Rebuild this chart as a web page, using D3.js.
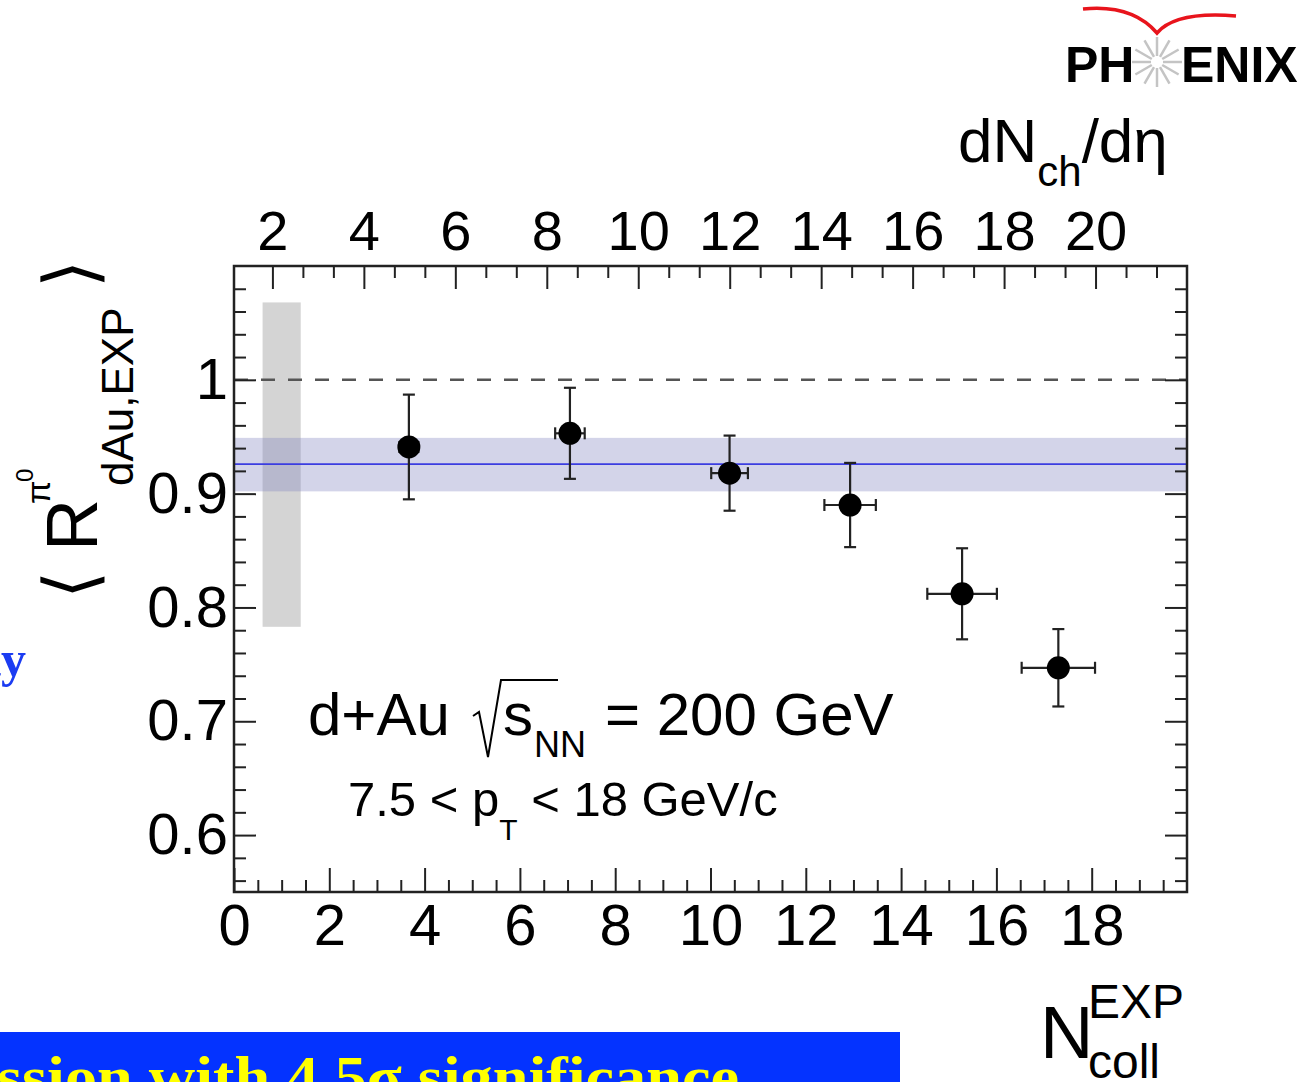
<!DOCTYPE html>
<html lang="en">
<head>
<meta charset="utf-8">
<title>RdAu vs Ncoll</title>
<script src="https://cdn.jsdelivr.net/npm/d3@7"></script>
<style>
  body { margin: 0; background: #fff; }
  svg text { font-family: "Liberation Sans", Arial, Helvetica, sans-serif; fill: #000; }
</style>
</head>
<body>
<script>
// values
var ncoll    = [3.67, 7.05, 10.40, 12.93, 15.28, 17.30];
var ncollErr = [0.20, 0.31, 0.385, 0.54, 0.73, 0.77];
var rdau     = [0.941, 0.953, 0.918, 0.890, 0.812, 0.747];
var rdauErr  = [0.046, 0.040, 0.033, 0.037, 0.040, 0.034];

var fitMean = 0.926;
var fitBand = [0.902, 0.949];
var globalBox = [0.6, 1.4, 0.783, 1.068];   // x0, x1, y0, y1

var xTicks   = [0, 2, 4, 6, 8, 10, 12, 14, 16, 18];
var topTicks = [2, 4, 6, 8, 10, 12, 14, 16, 18, 20];
var yTicks   = [0.6, 0.7, 0.8, 0.9, 1];

var W = 1302, H = 1082;
var fL = 234, fR = 1187, fT = 266, fB = 892;   // frame edges

var svg = d3.select("body").append("svg")
    .attr("width", W)
    .attr("height", H);

var x = d3.scaleLinear().domain([0, 20]).range([fL, fR]);
var xTop = d3.scaleLinear().domain([1.16, 22.0]).range([fL, fR]);
var y = d3.scaleLinear().domain([0.55, 1.1]).range([fB, fT]);

// minor tick values
var xMinor = d3.range(0, 20.01, 0.5).filter(function(v) { return v % 2 !== 0; });
var topMinor = d3.range(2, 22.0, 2 / 3).filter(function(v, i) { return i % 3 !== 0; });
var yMinor = d3.range(0.56, 1.1, 0.02).filter(function(v) {
    return Math.abs(v * 10 - Math.round(v * 10)) > 1e-6;
});

// ---- plot body ----
var plot = svg.append("g");

plot.append("rect")
    .attr("x", x(globalBox[0]))
    .attr("width", x(globalBox[1]) - x(globalBox[0]))
    .attr("y", y(globalBox[3]))
    .attr("height", y(globalBox[2]) - y(globalBox[3]))
    .attr("fill", "#d4d4d4");

plot.append("rect")
    .attr("x", fL)
    .attr("width", fR - fL)
    .attr("y", y(fitBand[1]))
    .attr("height", y(fitBand[0]) - y(fitBand[1]))
    .attr("fill", "rgb(133,136,194)")
    .attr("fill-opacity", 0.36);

plot.append("line")
    .attr("x1", fL).attr("x2", fR)
    .attr("y1", y(fitMean)).attr("y2", y(fitMean))
    .attr("stroke", "#3b3de0")
    .attr("stroke-width", 1.8);

plot.append("line")
    .attr("x1", fL).attr("x2", fR)
    .attr("y1", y(1)).attr("y2", y(1))
    .attr("stroke", "#555")
    .attr("stroke-width", 2.5)
    .attr("stroke-dasharray", "14,13");

// ---- points with error bars ----
var pts = ncoll.map(function(v, i) {
    return {x: v, ex: ncollErr[i], y: rdau[i], ey: rdauErr[i]};
});

var pt = plot.selectAll("g.pt")
    .data(pts)
  .enter().append("g")
    .attr("class", "pt")
    .attr("stroke", "#222")
    .attr("stroke-width", 2.2);

pt.append("line")
    .attr("x1", function(d) { return x(d.x); })
    .attr("x2", function(d) { return x(d.x); })
    .attr("y1", function(d) { return y(d.y + d.ey); })
    .attr("y2", function(d) { return y(d.y - d.ey); });
pt.append("line")
    .attr("x1", function(d) { return x(d.x - d.ex); })
    .attr("x2", function(d) { return x(d.x + d.ex); })
    .attr("y1", function(d) { return y(d.y); })
    .attr("y2", function(d) { return y(d.y); });
// caps
[-1, 1].forEach(function(s) {
    pt.append("line")
        .attr("x1", function(d) { return x(d.x) - 6; })
        .attr("x2", function(d) { return x(d.x) + 6; })
        .attr("y1", function(d) { return y(d.y + s * d.ey); })
        .attr("y2", function(d) { return y(d.y + s * d.ey); });
    pt.append("line")
        .attr("x1", function(d) { return x(d.x + s * d.ex); })
        .attr("x2", function(d) { return x(d.x + s * d.ex); })
        .attr("y1", function(d) { return y(d.y) - 6; })
        .attr("y2", function(d) { return y(d.y) + 6; });
});
pt.append("circle")
    .attr("cx", function(d) { return x(d.x); })
    .attr("cy", function(d) { return y(d.y); })
    .attr("r", 11.5)
    .attr("stroke", "none")
    .attr("fill", "#000");

// ---- axes (ROOT style, ticks inside) ----
function styleAxis(g, size) {
    g.select(".domain").remove();
    g.selectAll(".tick line").attr("stroke", "#222").attr("stroke-width", 2);
    g.attr("font-size", size).attr("font-family", null);
    g.selectAll("text").attr("fill", "#000");
}

var gx = svg.append("g")
    .attr("transform", "translate(0," + fB + ")")
    .call(d3.axisBottom(x).tickValues(xTicks).tickSize(-24).tickPadding(12).tickFormat(d3.format("d")));
styleAxis(gx, 58);
svg.append("g")
    .attr("transform", "translate(0," + fB + ")")
    .call(d3.axisBottom(x).tickValues(xMinor).tickSize(-12).tickFormat(""))
    .call(styleAxis, 10);

var gt = svg.append("g")
    .attr("transform", "translate(0," + fT + ")")
    .call(d3.axisTop(xTop).tickValues(topTicks).tickSize(-23).tickPadding(16).tickFormat(d3.format("d")));
styleAxis(gt, 56);
svg.append("g")
    .attr("transform", "translate(0," + fT + ")")
    .call(d3.axisTop(xTop).tickValues(topMinor).tickSize(-12).tickFormat(""))
    .call(styleAxis, 10);

var gy = svg.append("g")
    .attr("transform", "translate(" + fL + ",0)")
    .call(d3.axisLeft(y).tickValues(yTicks).tickSize(-22).tickPadding(6)
        .tickFormat(function(d) { return d === 1 ? "1" : d.toFixed(1); }));
styleAxis(gy, 58);
svg.append("g")
    .attr("transform", "translate(" + fL + ",0)")
    .call(d3.axisLeft(y).tickValues(yMinor).tickSize(-12).tickFormat(""))
    .call(styleAxis, 10);

svg.append("g")
    .attr("transform", "translate(" + fR + ",0)")
    .call(d3.axisRight(y).tickValues(yTicks).tickSize(-22).tickFormat(""))
    .call(styleAxis, 10);
svg.append("g")
    .attr("transform", "translate(" + fR + ",0)")
    .call(d3.axisRight(y).tickValues(yMinor).tickSize(-12).tickFormat(""))
    .call(styleAxis, 10);

// frame
svg.append("rect")
    .attr("x", fL).attr("y", fT)
    .attr("width", fR - fL).attr("height", fB - fT)
    .attr("fill", "none")
    .attr("stroke", "#222")
    .attr("stroke-width", 2.5);

// ---- axis titles ----
var tt = svg.append("text").attr("x", 958).attr("y", 162).attr("font-size", 62);
tt.append("tspan").text("dN");
tt.append("tspan").attr("dy", 24).attr("font-size", 42).text("ch");
tt.append("tspan").attr("dy", -24).text("/dη");

svg.append("text").attr("x", 1040).attr("y", 1058).attr("font-size", 74).text("N");
svg.append("text").attr("x", 1088).attr("y", 1018).attr("font-size", 48).text("EXP");
svg.append("text").attr("x", 1088).attr("y", 1078).attr("font-size", 48).text("coll");

// rotated y title: < R^{pi0}_{dAu,EXP} >
var yt = svg.append("g").attr("transform", "rotate(-90)");
yt.append("text").attr("transform", "translate(-599,95) scale(1.1,1.09)")
    .attr("font-size", 66).attr("font-weight", 200)
    .style("font-family", "DejaVu Sans").text("⟨");
yt.append("text").attr("x", -551).attr("y", 97).attr("font-size", 72).text("R");
yt.append("text").attr("x", -504).attr("y", 50).attr("font-size", 34).text("π");
yt.append("text").attr("x", -482).attr("y", 33).attr("font-size", 24).text("0");
yt.append("text").attr("x", -486).attr("y", 133).attr("font-size", 44).text("dAu,EXP");
yt.append("text").attr("transform", "translate(-288,95) scale(1.1,1.09)")
    .attr("font-size", 66).attr("font-weight", 200)
    .style("font-family", "DejaVu Sans").text("⟩");

// ---- annotations ----
svg.append("text").attr("x", 308).attr("y", 735).attr("font-size", 60).text("d+Au");
svg.append("path")
    .attr("d", "M473,716 L479,712 L488,757 L501,680 L558,680")
    .attr("fill", "none")
    .attr("stroke", "#000")
    .attr("stroke-width", 2);
svg.append("text").attr("x", 503).attr("y", 735).attr("font-size", 60).text("s");
svg.append("text").attr("x", 534).attr("y", 757).attr("font-size", 36).text("NN");
svg.append("text").attr("x", 605).attr("y", 735).attr("font-size", 60).text("= 200 GeV");

var t2 = svg.append("text").attr("x", 348).attr("y", 816).attr("font-size", 49);
t2.append("tspan").text("7.5 < p");
t2.append("tspan").attr("dy", 24).attr("font-size", 30).text("T");
t2.append("tspan").attr("dy", -24).text(" < 18 GeV/c");

// ---- slide decorations ----
svg.append("text")
    .attr("x", 26).attr("y", 676)
    .attr("text-anchor", "end")
    .attr("font-size", 50).attr("font-weight", "bold")
    .style("font-family", "'Liberation Serif', 'Times New Roman', serif")
    .style("fill", "#1b3cf2")
    .text("ty");

svg.append("rect")
    .attr("x", 0).attr("y", 1032)
    .attr("width", 900).attr("height", 60)
    .attr("fill", "#0433ff");
svg.append("text")
    .attr("x", -3).attr("y", 1096)
    .attr("font-size", 56).attr("font-weight", "bold")
    .attr("textLength", 742).attr("lengthAdjust", "spacingAndGlyphs")
    .style("font-family", "'Liberation Serif', 'Times New Roman', serif")
    .style("fill", "#ffff00")
    .text("ssion with 4.5σ significance");

// PHENIX logo
var logo = svg.append("g");
logo.append("path")
    .attr("d", "M1083,9 Q1132,4 1157,33 Q1176,11 1236,16")
    .attr("fill", "none")
    .attr("stroke", "#e8141c")
    .attr("stroke-width", 3.5)
    .attr("stroke-linejoin", "miter");
d3.range(12).forEach(function(k) {
    var a = k * Math.PI / 6;
    logo.append("line")
        .attr("x1", 1157 + 6 * Math.cos(a)).attr("y1", 62 + 6 * Math.sin(a))
        .attr("x2", 1157 + 25 * Math.cos(a)).attr("y2", 62 + 25 * Math.sin(a))
        .attr("stroke", "#c4c4c4").attr("stroke-width", 2.5);
});
logo.append("text").attr("x", 1065).attr("y", 82).attr("font-size", 50)
    .attr("font-weight", "bold").text("PH");
logo.append("text").attr("x", 1181).attr("y", 82).attr("font-size", 50)
    .attr("font-weight", "bold").text("ENIX");
</script>
</body>
</html>
